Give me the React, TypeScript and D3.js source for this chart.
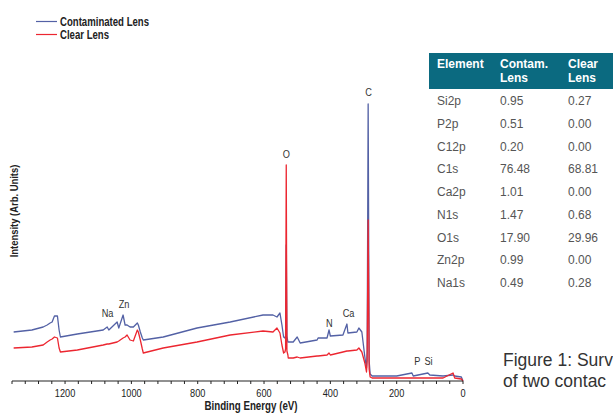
import * as d3 from 'd3';
import { useEffect, useRef } from 'react';

// binding energies (eV) shared by both spectra
const energy = [1355, 1300, 1266, 1254, 1245, 1239, 1232, 1223, 1218, 1214, 1163, 1085, 1073, 1068, 1043, 1038, 1025, 1019, 1013, 1004, 994, 982, 979, 973, 967, 964, 904, 802, 702, 603, 573, 561, 552, 546, 541, 537, 535, 533, 531, 528, 527, 512, 500, 491, 440, 437, 410, 404, 400, 362, 350, 347, 320, 314, 305, 296, 291, 289, 286, 283, 280, 274, 200, 154, 150, 106, 100, 60, 30, 25, 5, 0];

const contaminated = [49, 51, 54, 56, 58, 59, 65, 65, 51, 44, 47, 51, 54, 51, 59, 53, 66, 56, 56, 54, 54, 58, 56, 49, 43, 41, 44, 53, 59, 66, 66, 64, 68, 56, 44, 43, 45, 136, 45, 39, 39, 39, 44, 38, 41, 43, 43, 51, 45, 46, 57, 48, 49, 53, 49, 24, 13, 30, 277, 20, 7, 5, 5, 8, 5, 8, 6, 5, 6, 5, 4, 0];

const clear = [33, 34, 36, 39, 41, 42, 44, 43, 33, 29, 31, 36, 37, 37, 39, 40, 43, 44, 46, 41, 40, 51, 49, 41, 32, 28, 33, 39, 46, 50, 49, 53, 48, 36, 28, 29, 32, 216, 30, 26, 23, 23, 24, 23, 25, 25, 26, 28, 26, 29, 30, 30, 31, 33, 29, 18, 9, 20, 161, 12, 4, 3, 3, 3, 3, 3, 3, 3, 8, 3, 2, 0];

// peak annotations
const peakNames = ['O', 'C', 'Na', 'Zn', 'N', 'Ca', 'P', 'Si'];
const peakEnergy = [533, 285, 1072, 1022, 403, 345, 138, 104];
const peakHeight = [223, 285, 64, 73, 54, 64, 16, 16];

const xTicks = [1200, 1000, 800, 600, 400, 200, 0];

// atomic concentration table
const elements = ['Si2p', 'P2p', 'C12p', 'C1s', 'Ca2p', 'N1s', 'O1s', 'Zn2p', 'Na1s'];
const contamPct = ['0.95', '0.51', '0.20', '76.48', '1.01', '1.47', '17.90', '0.99', '0.49'];
const clearPct = ['0.27', '0.00', '0.00', '68.81', '0.00', '0.68', '29.96', '0.00', '0.28'];

const seriesNames = ['Contaminated Lens', 'Clear Lens'];
const seriesColors = ['#5361a5', '#ec2630'];

const sans = "'Liberation Sans', Arial, Helvetica, sans-serif";

// condensed-looking text: regular sans squeezed horizontally
function narrowText(parent: any, x: number, y: number, str: string, size: number, bold: boolean, anchor = 'start', rot = 0) {
  return parent.append('text')
    .attr('transform', `translate(${x},${y}) rotate(${rot}) scale(0.8,1)`)
    .attr('text-anchor', anchor)
    .style('font', `${bold ? 'bold ' : ''}${size}px ${sans}`)
    .attr('fill', '#222')
    .text(str);
}

function App() {
  const svgRef = useRef<SVGSVGElement>(null);

  useEffect(() => {
    const w = 613;
    const h = 413;
    const svg = d3.select(svgRef.current);
    svg.selectAll('*').remove();

    const x = d3.scaleLinear().domain([1360, 0]).range([12, 463]);
    const y = d3.scaleLinear().domain([0, 290]).range([381, 91]);

    // spectra
    const line = d3.line<number>()
      .x((d, i) => x(energy[i]))
      .y(d => y(d));

    [contaminated, clear].forEach((s, k) => {
      svg.append('path')
        .datum(s)
        .attr('d', line)
        .attr('fill', 'none')
        .attr('stroke', seriesColors[k])
        .attr('stroke-width', 1.3)
        .attr('stroke-linejoin', 'round');
    });

    // x axis
    const xAxis = svg.append('g').attr('transform', 'translate(0,381)');
    xAxis.append('line')
      .attr('x1', x(1360)).attr('x2', x(0))
      .attr('stroke', '#222').attr('stroke-width', 1);
    xAxis.selectAll('.minor')
      .data(d3.range(0, 1361, 40))
      .enter().append('line')
      .attr('x1', d => x(d)).attr('x2', d => x(d))
      .attr('y1', 0).attr('y2', 3)
      .attr('stroke', '#222').attr('stroke-width', 1);
    xTicks.forEach(t => narrowText(xAxis, x(t), 16, String(t), 11.5, false, 'middle'));

    narrowText(svg, 251, 410, 'Binding Energy (eV)', 12.2, true, 'middle');
    narrowText(svg, 18, 211, 'Intensity (Arb. Units)', 11.8, true, 'middle', -90);

    // peak labels
    peakNames.forEach((p, i) => {
      narrowText(svg, x(peakEnergy[i]), y(peakHeight[i]), p, 11.5, false, 'middle')
        .attr('fill', '#333');
    });

    // legend
    seriesNames.forEach((name, k) => {
      const ly = 21.5 + k * 13;
      svg.append('line')
        .attr('x1', 36).attr('x2', 57)
        .attr('y1', ly).attr('y2', ly)
        .attr('stroke', seriesColors[k]).attr('stroke-width', 1.2);
      narrowText(svg, 60, ly + 4, name, 12, true);
    });

    // table
    const tx = 429;
    svg.append('rect')
      .attr('x', tx).attr('y', 53)
      .attr('width', w - tx).attr('height', 36)
      .attr('fill', '#0b6a80');
    const cols = [437, 500, 568];
    const head = [['Element'], ['Contam.', 'Lens'], ['Clear', 'Lens']];
    head.forEach((lines, c) => {
      lines.forEach((t, j) => {
        svg.append('text')
          .attr('x', cols[c]).attr('y', 68 + j * 13.5)
          .style('font', `bold 12px ${sans}`)
          .attr('fill', '#fff')
          .text(t);
      });
    });
    const rowY = d3.scaleLinear().domain([0, elements.length - 1]).range([105, 287]);
    [elements, contamPct, clearPct].forEach((col, c) => {
      svg.selectAll(`.col${c}`)
        .data(col)
        .enter().append('text')
        .attr('x', cols[c])
        .attr('y', (d, i) => rowY(i))
        .style('font', `12px ${sans}`)
        .attr('fill', '#555')
        .text(d => d);
    });

    // caption, cut by the page edge as in the source
    svg.append('text')
      .attr('x', 503).attr('y', 366)
      .style('font', `17.5px ${sans}`)
      .attr('fill', '#333')
      .text('Figure 1: Surv');
    svg.append('text')
      .attr('x', 503).attr('y', 387)
      .style('font', `17.5px ${sans}`)
      .attr('fill', '#333')
      .text('of two contac');

    svg.attr('width', w).attr('height', h);
  }, []);

  return (
    <div style={{ position: 'absolute', left: 0, top: 0, width: 613, height: 413, overflow: 'hidden', background: '#fff' }}>
      <svg ref={svgRef} style={{ display: 'block' }}></svg>
    </div>
  );
}

export default App;
